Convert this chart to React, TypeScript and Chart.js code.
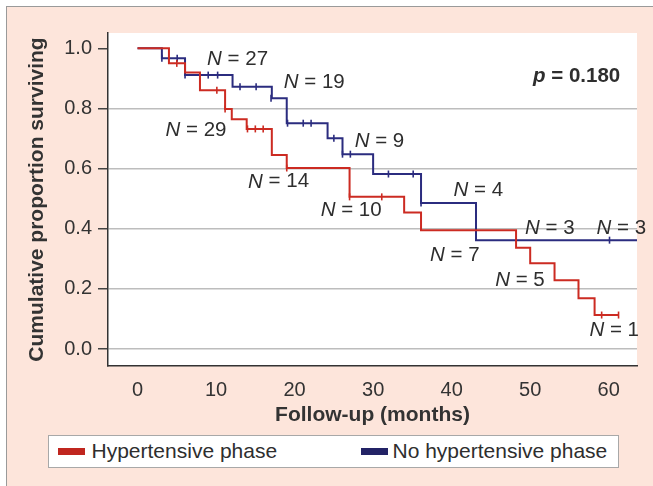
import React, { useEffect, useRef } from "react";
import { Chart, registerables } from "chart.js";

Chart.register(...registerables);

// ---- Data ----
// Kaplan–Meier step points: time (months) and survival after each drop
const redTimes = [0, 4.0, 6.05, 7.95, 11.15, 12.0, 13.9, 17.1, 19.0, 27.0, 33.95, 36.1, 48.2, 50.0, 53.1, 56.15, 58.2, 61.25];
const redSurv = [1.0, 0.95, 0.92, 0.861, 0.798, 0.764, 0.732, 0.645, 0.602, 0.506, 0.454, 0.395, 0.337, 0.285, 0.229, 0.169, 0.113, 0.113];
const redCensorTimes = [5.0, 10.1, 11.15, 14.0, 15.0, 16.0, 19.0, 27.0, 31.1, 59.1, 61.25];
const redCensorSurv = [0.95, 0.861, 0.798, 0.732, 0.732, 0.732, 0.602, 0.506, 0.506, 0.113, 0.113];

const blueTimes = [0, 3.1, 6.05, 12.1, 17.1, 19.0, 24.2, 26.1, 30.0, 36.1, 43.1, 64];
const blueSurv = [1.0, 0.967, 0.911, 0.872, 0.834, 0.751, 0.701, 0.648, 0.582, 0.486, 0.362, 0.362];
const blueCensorTimes = [3.1, 5.05, 6.05, 9.0, 10.2, 13.05, 15.1, 17.0, 19.1, 21.1, 22.1, 25.0, 26.1, 27.1, 31.95, 35.1, 36.1, 60.1];
const blueCensorSurv = [0.967, 0.967, 0.911, 0.911, 0.911, 0.872, 0.872, 0.834, 0.751, 0.751, 0.751, 0.701, 0.648, 0.648, 0.582, 0.582, 0.486, 0.362];

// Numbers-at-risk annotations (data coordinates)
const riskCounts = [27, 19, 9, 4, 3, 3, 29, 14, 10, 7, 5, 1];
const riskX = [12.74, 22.5, 30.8, 43.4, 52.5, 61.6, 7.45, 17.96, 27.2, 40.4, 48.7, 60.7];
const riskY = [0.964, 0.886, 0.69, 0.527, 0.402, 0.402, 0.727, 0.556, 0.462, 0.313, 0.229, 0.063];

const pValueText = "0.180";
const pValueX = 61.46;
const pValueY = 0.906;

const xTicks = [0, 10, 20, 30, 40, 50, 60];
const yTicks = [0, 0.2, 0.4, 0.6, 0.8, 1.0];

const seriesNames = ["Hypertensive phase", "No hypertensive phase"];

const RED = "#cc2b22";
const BLUE = "#2b2c7f";
const TEXT = "#2e2e2e";
const FONT = "'Liberation Sans', Arial, Helvetica, sans-serif";

const toPts = (xs: number[], ys: number[]) => xs.map((x, i) => ({ x, y: ys[i] }));

export default function App() {
  const ref = useRef<HTMLCanvasElement | null>(null);

  useEffect(() => {
    const canvas = ref.current;
    if (!canvas) return;

    const annotations = {
      id: "kmAnnotations",
      beforeDraw(chart: any) {
        const { ctx, chartArea } = chart;
        ctx.save();
        ctx.fillStyle = "#ffffff";
        ctx.fillRect(chartArea.left, chartArea.top, chartArea.right - chartArea.left, chartArea.bottom - chartArea.top);
        ctx.restore();
      },
      afterDraw(chart: any) {
        const { ctx, scales } = chart;
        const xs = scales.x;
        const ys = scales.y;
        ctx.save();
        ctx.fillStyle = TEXT;
        ctx.textBaseline = "middle";
        ctx.textAlign = "left";
        const size = 20.5;
        riskCounts.forEach((n, i) => {
          const cx = xs.getPixelForValue(riskX[i]);
          const cy = ys.getPixelForValue(riskY[i]);
          const italic = `italic ${size}px ${FONT}`;
          const normal = `${size}px ${FONT}`;
          const rest = ` = ${n}`;
          ctx.font = italic;
          const w1 = ctx.measureText("N").width;
          ctx.font = normal;
          const w2 = ctx.measureText(rest).width;
          const start = cx - (w1 + w2) / 2;
          ctx.font = italic;
          ctx.fillText("N", start, cy);
          ctx.font = normal;
          ctx.fillText(rest, start + w1, cy);
        });
        // p-value (right aligned)
        const px = xs.getPixelForValue(pValueX);
        const py = ys.getPixelForValue(pValueY);
        const bi = `italic bold 20.5px ${FONT}`;
        const b = `bold 20.5px ${FONT}`;
        const rest = ` = ${pValueText}`;
        ctx.font = b;
        const wr = ctx.measureText(rest).width;
        ctx.font = bi;
        const wp = ctx.measureText("p").width;
        ctx.fillText("p", px - wr - wp, py);
        ctx.font = b;
        ctx.fillText(rest, px - wr, py);
        ctx.restore();
      },
    };

    const tickFont = { family: FONT, size: 20 };
    const titleFont = { family: FONT, size: 21, weight: "bold" as const };

    const chart = new Chart(canvas, {
      type: "line",
      data: {
        datasets: [
          {
            label: seriesNames[0],
            data: toPts(redTimes, redSurv),
            stepped: true,
            borderColor: RED,
            borderWidth: 2,
            pointRadius: 0,
            fill: false,
          },
          {
            label: seriesNames[1],
            data: toPts(blueTimes, blueSurv),
            stepped: true,
            borderColor: BLUE,
            borderWidth: 2,
            pointRadius: 0,
            fill: false,
          },
          {
            label: "Hypertensive phase (censored)",
            data: toPts(redCensorTimes, redCensorSurv),
            showLine: false,
            pointStyle: "line",
            rotation: 90,
            pointRadius: 3.5,
            pointBorderWidth: 1.6,
            pointBorderColor: RED,
            borderColor: RED,
          },
          {
            label: "No hypertensive phase (censored)",
            data: toPts(blueCensorTimes, blueCensorSurv),
            showLine: false,
            pointStyle: "line",
            rotation: 90,
            pointRadius: 3.5,
            pointBorderWidth: 1.6,
            pointBorderColor: BLUE,
            borderColor: BLUE,
          },
        ],
      },
      options: {
        responsive: false,
        animation: false,
        events: [],
        layout: { padding: { top: 33, right: 16, left: 0, bottom: 0 } },
        plugins: {
          legend: { display: false },
          tooltip: { enabled: false },
        },
        scales: {
          x: {
            type: "linear",
            min: -3.76,
            max: 63.6,
            afterFit: (s: any) => {
              s.height = 64;
            },
            afterBuildTicks: (s: any) => {
              s.ticks = xTicks.map((v) => ({ value: v }));
            },
            grid: { display: false, drawTicks: false },
            border: { display: true, color: "#333", width: 1.5 },
            ticks: {
              autoSkip: false,
              maxRotation: 0,
              padding: 12,
              color: "#333",
              font: tickFont,
              callback: (v: any) => String(v),
            },
            title: {
              display: true,
              text: "Follow-up (months)",
              color: "#333",
              font: titleFont,
              padding: { top: 0, bottom: 2 },
            },
          },
          y: {
            type: "linear",
            min: -0.0565,
            max: 1.051,
            afterFit: (s: any) => {
              s.width = 108;
            },
            afterBuildTicks: (s: any) => {
              s.ticks = yTicks.map((v) => ({ value: v }));
            },
            grid: {
              color: (c: any) => (c.tick && c.tick.value > 0.99 ? "rgba(0,0,0,0)" : "#bdbdbd"),
              lineWidth: 1.5,
              tickColor: "#444",
              tickLength: 10,
              drawTicks: true,
            },
            border: { display: true, color: "#333", width: 1.5 },
            ticks: {
              autoSkip: false,
              padding: 6,
              color: "#333",
              font: tickFont,
              callback: (v: any) => Number(v).toFixed(1),
            },
            title: {
              display: true,
              text: "Cumulative proportion surviving",
              color: "#333",
              font: titleFont,
              padding: { top: 25, bottom: 0 },
            },
          },
        },
      },
      plugins: [annotations],
    } as any);

    return () => {
      chart.destroy();
    };
  }, []);

  const legendText: React.CSSProperties = {
    position: "absolute",
    top: 439.5,
    fontFamily: FONT,
    fontSize: 21,
    lineHeight: "21px",
    color: TEXT,
    whiteSpace: "nowrap",
  };

  return (
    <div style={{ position: "fixed", left: 0, top: 0, width: 653, height: 486, background: "#ffffff", overflow: "hidden" }}>
      <div
        style={{
          position: "absolute",
          left: 6,
          top: 6,
          width: 700,
          height: 520,
          background: "#fde5db",
          borderLeft: "1.5px solid #9a9a9a",
          borderTop: "1.5px solid #9a9a9a",
        }}
      />
      <canvas ref={ref} width={653} height={430} style={{ position: "absolute", left: 0, top: 0, width: 653, height: 430 }} />
      <div
        style={{
          position: "absolute",
          left: 48,
          top: 435,
          width: 571,
          height: 33,
          boxSizing: "border-box",
          border: "1.5px solid #a8a8a8",
          background: "#ffffff",
        }}
      />
      <div style={{ position: "absolute", left: 58, top: 448, width: 27, height: 7, background: "#c0261f" }} />
      <span style={{ ...legendText, left: 91.5 }}>{seriesNames[0]}</span>
      <div style={{ position: "absolute", left: 361, top: 448, width: 27, height: 7, background: "#232366" }} />
      <span style={{ ...legendText, left: 392.5 }}>{seriesNames[1]}</span>
    </div>
  );
}
